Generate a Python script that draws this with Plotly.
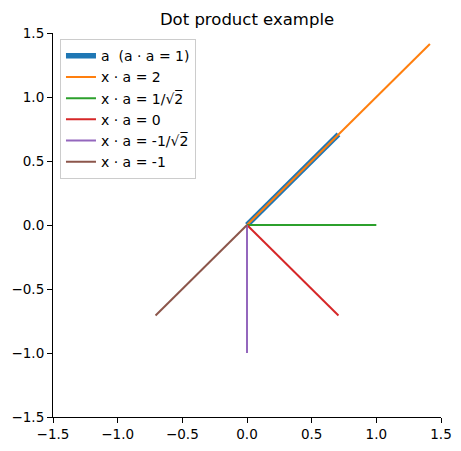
import numpy as np
import plotly.graph_objects as go

s = np.sqrt(2) / 2

# vector endpoints (each segment starts at origin)
names = ["a  (a · a = 1)", "x · a = 2", "x · a = 1/√2̅", "x · a = 0", "x · a = -1/√2̅", "x · a = -1"]
end_x = [s, 2 * s, 1.0, s, 0.0, -s]
end_y = [s, 2 * s, 0.0, -s, -1.0, -s]
colors = ["#1f77b4", "#ff7f0e", "#2ca02c", "#d62728", "#9467bd", "#8c564b"]
widths = [5.3, 2, 2, 2, 2, 2]

fig = go.Figure()
for i, (name, ex, ey, c, w) in enumerate(zip(names, end_x, end_y, colors, widths)):
    fig.add_trace(go.Scatter(x=[0, ex], y=[0, ey], mode="lines", name=name,
                             legendgroup=f"g{i}",
                             line=dict(color=c, width=w)))

ticks = [-1.5, -1.0, -0.5, 0.0, 0.5, 1.0, 1.5]
ticktext = [f"{t:.1f}".replace("-", "−") for t in ticks]

axis = dict(range=[-1.5, 1.5], tickvals=ticks, ticktext=ticktext, showgrid=False,
            zeroline=False, showline=True, linecolor="black", linewidth=1.1,
            ticks="outside", ticklen=5, tickcolor="black", tickwidth=1.1,
            tickfont=dict(size=13.5, color="black"), automargin=False)

# page body has an 8px margin, so the figure is shrunk by that much
fig.update_layout(
    width=453, height=443,
    margin=dict(l=45, r=20, t=25, b=34),
    plot_bgcolor="white", paper_bgcolor="white",
    font=dict(family="DejaVu Sans", color="black"),
    title=dict(text="Dot product example", x=0.5, xref="paper", xanchor="center",
               y=0.988, yanchor="top", font=dict(size=16.5)),
    xaxis=axis, yaxis=axis,
    legend=dict(x=0.018, y=0.984, xanchor="left", yanchor="top", bgcolor="rgba(255,255,255,0.8)",
                bordercolor="#cccccc", borderwidth=1, font=dict(size=14), tracegroupgap=0),
    showlegend=True,
)

fig.write_html("out.html")
